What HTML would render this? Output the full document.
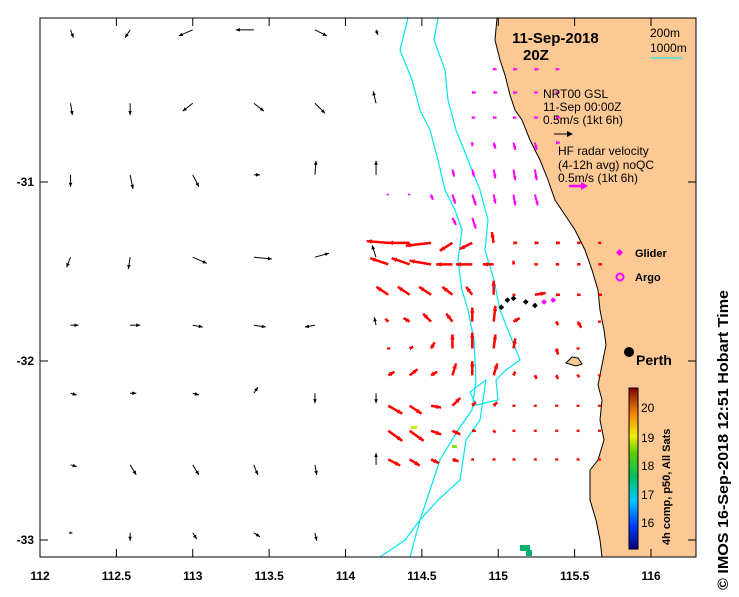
<!DOCTYPE html>
<html><head><meta charset="utf-8"><style>
body{margin:0;background:#fff;font-family:"Liberation Sans",sans-serif}
svg text{font-family:"Liberation Sans",sans-serif}
</style></head><body>
<svg id="chart" width="739" height="592" xmlns="http://www.w3.org/2000/svg">
<rect width="739" height="592" fill="#fff"/>
<g id="land"></g>
<g id="iso"></g>
<g id="arrows"></g>
<g id="axes"></g>
<g id="legend"></g>
</svg>
<script>
const X0=40,X1=696,Y0=18,Y1=557;
function sx(lon){return 40+(lon-112)*152.75;}
function sy(lat){return 182-(lat+31)*179;}
const xTicks=[112,112.5,113,113.5,114,114.5,115,115.5,116];
const xTickLabels=["112","112.5","113","113.5","114","114.5","115","115.5","116"];
const yTicks=[-31,-32,-33];
const yTickLabels=["-31","-32","-33"];
// NRT00 model current (black): lon, lat, u, v (m/s)
const blkLon=[112.2,112.59,113.0,113.4,113.8,114.2];
const blkLat=[-30.15,-30.56,-30.96,-31.42,-31.8,-32.18,-32.58,-32.96];
const blkU=[[0.08,-0.14,-0.39,-0.5,0.33,0.05],[0.05,0,-0.28,0.28,0.28,-0.08],[0,0.08,0.17,0.17,0.03,0],[-0.11,-0.05,0.39,0.5,0.39,-0.11],[0.22,0.28,0.28,0.33,-0.28,-0.05],[0.17,0.17,0.17,0.11,0,0],[0.17,0.17,0.17,0.11,0.05,0],[0.05,0,0.11,0.17,0.05,0]];
const blkV=[[-0.22,-0.22,-0.17,0,-0.17,-0.14],[-0.33,-0.33,-0.22,-0.22,-0.28,0.33],[-0.33,-0.39,-0.33,0,0.39,0.39],[-0.28,-0.33,-0.17,-0.05,0.11,0.33],[0,0,-0.05,-0.05,-0.05,0.22],[-0.05,0,-0.05,0.17,-0.28,-0.28],[-0.05,-0.28,-0.28,-0.28,-0.28,0.33],[0,-0.22,-0.17,-0.11,-0.22,0]];
// HF radar (red)
const redLon=[114.28,114.42,114.56,114.7,114.83,114.97,115.1,115.24,115.38,115.52,115.66];
const redLat=[-31.34,-31.46,-31.63,-31.78,-31.93,-32.08,-32.25,-32.39,-32.55];
const redU=[[-0.6,-0.6,-0.7,-0.35,-0.35,-0.05,0.1,0.1,0.1,0.08,0.06],[-0.5,-0.5,-0.6,-0.45,-0.45,-0.3,0,0.08,0.08,0.08,0.08],[-0.33,-0.33,-0.33,-0.28,-0.17,0,0.05,0.3,0.1,0.08,0.08],[-0.08,-0.17,-0.22,-0.17,0,0.05,0.17,0,0.05,0.1,0.05],[0.05,0.1,0.1,0,0,0.05,0.05,0,0.05,0.05,0],[0.17,0.22,0.17,0.1,0,0.1,0.05,0.05,0.05,0.05,0.05],[0.39,0.33,0.28,0.22,0.1,0.1,0.05,0.05,0.05,0.05,0.05],[0.39,0.39,0.28,0.22,0.1,0.05,0.05,0.05,0.05,0.05,0.05],[0.33,0.28,0.22,0.17,0.05,0.05,0.05,0.05,0.05,0.05,0.05]];
const redV=[[0.05,0,-0.08,-0.22,-0.17,0.3,0,0,0,0,0],[0.17,0.17,0.1,0,0,0,0.1,0,0,0,0],[0.22,0.22,0.22,0.22,0.22,0.39,0,0.05,0,0,0],[0.08,0.1,0.22,0.22,0.39,0.44,0.1,0,-0.1,-0.17,0],[0,0.05,0.17,0.39,0.44,0.39,0.28,0,-0.17,0,0],[0.1,0.17,0.1,0.33,0.39,0.33,0.1,-0.1,-0.1,-0.05,0],[-0.22,-0.22,-0.05,0.22,0.1,0.1,0,0,0,0,0],[-0.28,-0.28,-0.1,-0.1,0,-0.05,0,0,0,0,0],[-0.17,-0.17,-0.1,-0.05,0,0,0,0,0,0,0]];
// HF radar (magenta) northern region
const magLon=[114.28,114.42,114.56,114.7,114.83,114.97,115.1,115.24,115.38];
const magLat=[-30.37,-30.5,-30.64,-30.78,-30.93,-31.07,-31.2];
const magU=[[0,0,0,0,0,0.08,0.1,0.1,0.08],[0,0,0,0,0.1,0.1,0.1,0.08,0.08],[0,0,0,0,0.08,0.08,0.08,0.08,0.1],[0,0,0,0,0,0.05,0.05,0.05,0.1],[0,0,0,0.05,0.05,0.05,0.05,0.05,0],[0.02,0.02,0.05,0.08,0.1,0.05,0.05,0.08,0],[0,0,0,0.1,0.1,0,0,0,0]];
const magV=[[0,0,0,0,0,0,0,0,0],[0,0,0,0,0,0,0,0,0],[0,0,0,0,0,0,0,0,0],[0,0,0,0,-0.1,-0.17,-0.2,-0.2,0],[0,0,0,-0.2,-0.2,-0.25,-0.3,-0.3,0],[0,0,-0.15,-0.25,-0.3,-0.25,-0.3,-0.3,0],[0,0,0,-0.2,-0.3,0,0,0,0]];
const gliderLon=[115.02,115.06,115.1,115.18,115.24,115.3,115.36];
const gliderLat=[-31.7,-31.66,-31.65,-31.67,-31.69,-31.67,-31.66];
const SC=36;
const NS="http://www.w3.org/2000/svg";
function mk(tag,attrs,parent){const e=document.createElementNS(NS,tag);for(const k in attrs)e.setAttribute(k,attrs[k]);parent.appendChild(e);return e;}
function arrow(parent,x,y,dx,dy,col,w,name,hs){
  const L=Math.hypot(dx,dy);if(L<0.5)return;
  const g=mk('g',{},parent);
  
  
  const ux=dx/L,uy=dy/L,hx=x+dx,hy=y+dy,h=Math.min(hs,L*0.5+2);
  mk('line',{x1:x,y1:y,x2:hx,y2:hy,stroke:col,'stroke-width':w},g);
  mk('polygon',{points:`${hx},${hy} ${hx-ux*h-uy*h*0.45},${hy-uy*h+ux*h*0.45} ${hx-ux*h+uy*h*0.45},${hy-uy*h-ux*h*0.45}`,fill:col},g);
}
const coast=[[497,18],[495,40],[500,60],[505,75],[510,95],[515,110],[522,120],[530,140],[540,160],[548,180],[555,200],[565,215],[575,230],[585,250],[592,270],[598,290],[600,310],[604,330],[606,345],[603,360],[598,385],[602,400],[600,420],[604,440],[598,460],[590,470],[590,500],[596,520],[600,540],[602,557],[696,557],[696,18]];
const land=document.getElementById('land');
const lp=mk('polygon',{points:coast.map(p=>p.join(',')).join(' '),fill:'#fcc995',stroke:'#000','stroke-width':1},land);

const isl=mk('polygon',{points:'566,363 572,357 578,358 582,364 576,366',fill:'#fcc995',stroke:'#000','stroke-width':1},land);

const iso=document.getElementById('iso');
const i200=mk('polyline',{points:'408,18 400,50 412,80 420,110 430,130 438,160 445,190 455,210 462,230 458,260 462,290 468,310 474,340 476,380 472,410 458,430 440,460 430,490 420,520 410,557',fill:'none',stroke:'#00e5f0','stroke-width':1.2},iso);

const i1000=mk('polyline',{points:'438,18 434,40 445,70 448,100 456,130 468,160 480,190 488,220 485,250 494,280 500,310 512,340 520,360 506,370 496,380 498,400 476,405 470,392 486,380 480,420 466,440 460,480 438,500 420,520 405,540 380,557',fill:'none',stroke:'#00e5f0','stroke-width':1.2},iso);

const ar=document.getElementById('arrows');
blkLat.forEach((la,r)=>blkLon.forEach((lo,c)=>arrow(ar,sx(lo),sy(la),blkU[r][c]*SC,-blkV[r][c]*SC,'#000',1,'model-current-arrow',4)));
redLat.forEach((la,r)=>redLon.forEach((lo,c)=>{const u=redU[r][c],v=redV[r][c];if(u===0&&v===0)return;arrow(ar,sx(lo),sy(la),u*SC,-v*SC,'#f00',2.5,'radar-current-arrow',5);}));
magLat.forEach((la,r)=>magLon.forEach((lo,c)=>{const u=magU[r][c],v=magV[r][c];if(u===0&&v===0)return;arrow(ar,sx(lo),sy(la),u*SC,-v*SC,'#f0f',2,'radar-current-arrow-magenta',4);}));
gliderLon.forEach((lo,i)=>{const d=mk('rect',{x:sx(lo)-2,y:sy(gliderLat[i])-2,width:4,height:4,fill:i<5?'#000':'#f0f',transform:`rotate(45 ${sx(lo)} ${sy(gliderLat[i])})`},ar);
});
[[411,426,6,3,'#c8f000'],[452,445,5,3,'#8ee000'],[520,545,10,6,'#00b070'],[526,550,6,6,'#00b070']].forEach(s=>{const r=mk('rect',{x:s[0],y:s[1],width:s[2],height:s[3],fill:s[4]},ar);});
const ax=document.getElementById('axes');
mk('rect',{x:X0,y:Y0,width:X1-X0,height:Y1-Y0,fill:'none',stroke:'#000','stroke-width':1},ax);
xTicks.forEach((t,i)=>{const x=sx(t);mk('line',{x1:x,y1:Y1,x2:x,y2:Y1-8,stroke:'#000'},ax);mk('line',{x1:x,y1:Y0,x2:x,y2:Y0+8,stroke:'#000'},ax);
const tx=mk('text',{x:x,y:580,'text-anchor':'middle','font-size':12,'font-weight':'bold'},ax);tx.textContent=xTickLabels[i];
});
yTicks.forEach((t,i)=>{const y=sy(t);mk('line',{x1:X0,y1:y,x2:X0+8,y2:y,stroke:'#000'},ax);mk('line',{x1:X1,y1:y,x2:X1-8,y2:y,stroke:'#000'},ax);
const tx=mk('text',{x:34,y:y+4,'text-anchor':'end','font-size':12,'font-weight':'bold'},ax);tx.textContent=yTickLabels[i];
});
</script>
<svg style="position:absolute;left:0;top:0" width="739" height="592">
<text x="512" y="43" font-size="15" font-weight="bold">11-Sep-2018</text>
<text x="523" y="60" font-size="15" font-weight="bold">20Z</text>
<text x="650" y="37" font-size="12">200m</text>
<text x="650" y="52" font-size="12">1000m</text>
<line x1="650" y1="58" x2="683" y2="58" stroke="#00e5f0"/>
<text x="543" y="98" font-size="12">NRT00 GSL</text>
<text x="543" y="111" font-size="12">11-Sep 00:00Z</text>
<text x="543" y="124" font-size="12">0.5m/s (1kt 6h)</text>
<line x1="554" y1="134" x2="570" y2="134" stroke="#000"/><polygon points="573,134 567,131 567,137" fill="#000"/>
<text x="558" y="155" font-size="12">HF radar velocity</text>
<text x="558" y="169" font-size="12">(4-12h avg) noQC</text>
<text x="558" y="182" font-size="12">0.5m/s (1kt 6h)</text>
<line x1="569" y1="186" x2="583" y2="186" stroke="#f0f" stroke-width="2.5"/><polygon points="588,186 581,182 581,190" fill="#f0f"/>
<rect x="617" y="250" width="5" height="5" fill="#f0f" transform="rotate(45 619.5 252.5)"/>
<text x="635" y="257" font-size="11" font-weight="bold">Glider</text>
<circle cx="620" cy="277" r="3.5" fill="none" stroke="#f0f" stroke-width="2"/>
<text x="635" y="281" font-size="11" font-weight="bold">Argo</text>
<circle cx="629" cy="352" r="5" fill="#000"/>
<text x="636" y="365" font-size="14" font-weight="bold">Perth</text>
<defs><linearGradient id="cb" x1="0" y1="1" x2="0" y2="0"><stop offset="0" stop-color="#00007f"/><stop offset="0.15" stop-color="#0040ff"/><stop offset="0.3" stop-color="#00c8ff"/><stop offset="0.45" stop-color="#00c060"/><stop offset="0.6" stop-color="#60d000"/><stop offset="0.7" stop-color="#f0f000"/><stop offset="0.85" stop-color="#f08000"/><stop offset="1" stop-color="#800000"/></linearGradient></defs>
<rect x="629" y="388" width="9" height="161" fill="url(#cb)" stroke="#000"/>
<g font-size="12">
<text x="641" y="412">20</text><text x="641" y="442">19</text><text x="641" y="470">18</text><text x="641" y="499">17</text><text x="641" y="527">16</text></g>
<text transform="translate(670,545) rotate(-90)" font-size="11" font-weight="bold">4h comp, p50, All Sats</text>
<text transform="translate(728,590) rotate(-90)" font-size="15" font-weight="bold" textLength="300" lengthAdjust="spacingAndGlyphs">© IMOS 16-Sep-2018 12:51 Hobart Time</text>
</svg>
</body></html>
